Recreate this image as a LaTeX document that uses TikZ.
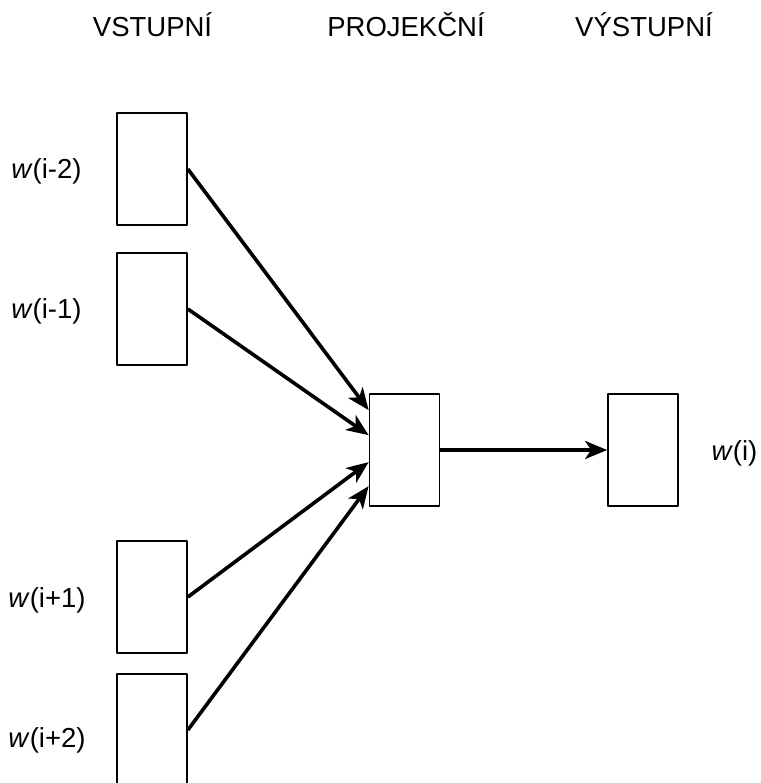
\documentclass[tikz,border=0pt]{standalone}
\usepackage{fontspec}
\setmainfont{Liberation Sans}
\usetikzlibrary{arrows.meta,positioning}

\begin{document}
\begin{tikzpicture}[x=1pt,y=-1pt,line join=round,
  box/.style={draw,line width=1.7pt,minimum width=70pt,minimum height=112pt,inner sep=0pt},
  lbl/.style={font=\fontsize{27.5}{32}\selectfont,anchor=base,inner sep=0pt},
  conn/.style={line width=3.6pt,-{Stealth[length=22pt,width=18pt,inset=6pt]}}]
\useasboundingbox (0,0) rectangle (760,783);
\node[lbl] (hin) at (152.5,37) {VSTUPNÍ};
\node[lbl] (hproj) at (406,37) {PROJEKČNÍ};
\node[lbl] (hout) at (644,37) {VÝSTUPNÍ};
\node[box] (in1) at (152,169) {};
\node[box] (in2) at (152,309) {};
\node[box] (in3) at (152,597) {};
\node[box] (in4) at (152,730) {};
\node[box] (proj) at (404.5,450) {};
\node[box] (out) at (643,450) {};
\node[lbl] (lin1) at (46.5,179) {\textit{w}(i-2)};
\node[lbl] (lin2) at (46.5,318) {\textit{w}(i-1)};
\node[lbl] (lin3) at (47,607) {\textit{w}(i+1)};
\node[lbl] (lin4) at (47,747) {\textit{w}(i+2)};
\node[lbl] (lout) at (734.5,460) {\textit{w}(i)};
\draw[conn](in1.east)--([yshift=-17pt]proj.north west);
\draw[conn](in2.east)--([yshift=-42pt]proj.north west);
\draw[conn](in3.east)--([yshift=-69pt]proj.north west);
\draw[conn](in4.east)--([yshift=-93pt]proj.north west);
\draw[conn](proj.east)--(out.west);
\end{tikzpicture}
\end{document}
